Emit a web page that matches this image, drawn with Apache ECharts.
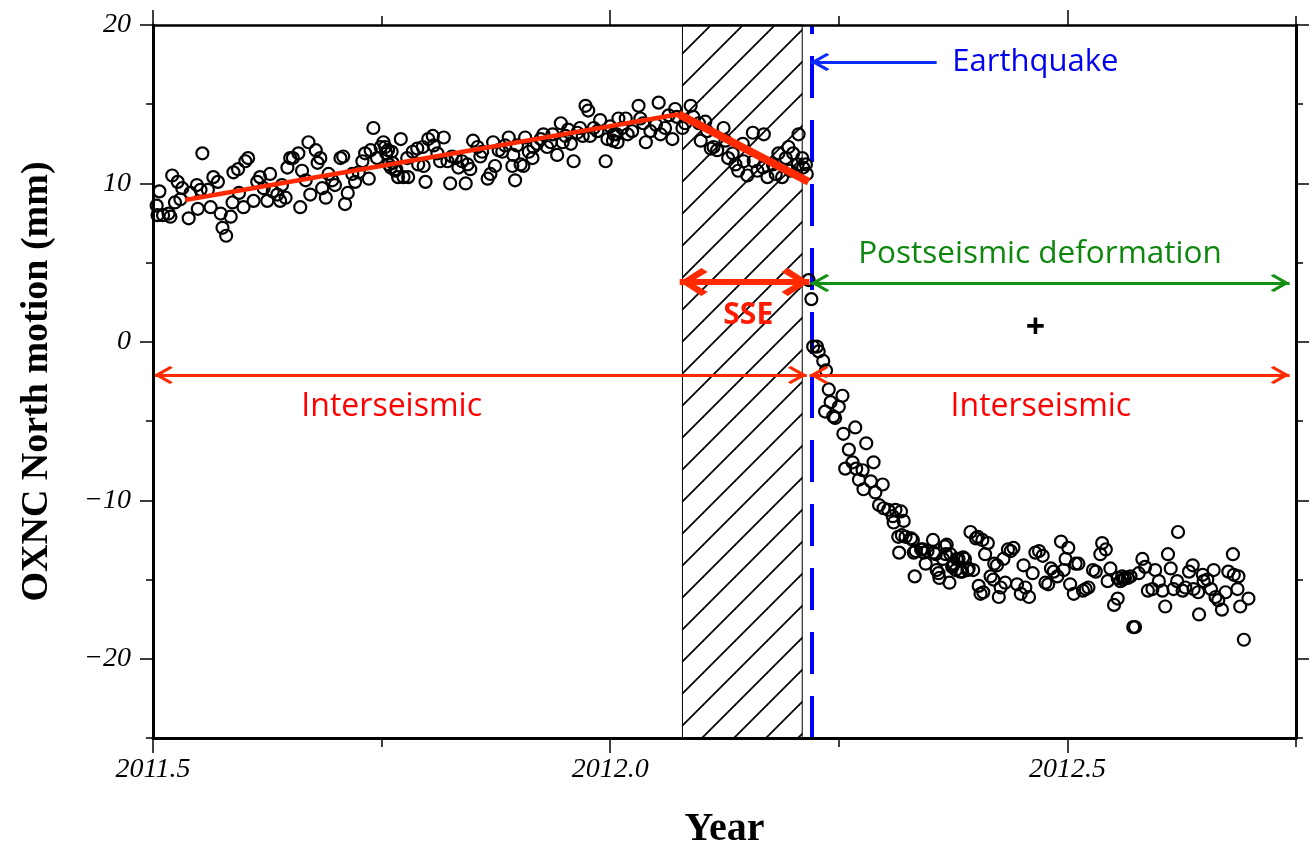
<!DOCTYPE html>
<html><head><meta charset="utf-8">
<script src="https://cdn.jsdelivr.net/npm/echarts@6/dist/echarts.min.js"></script>
<style>html,body{margin:0;padding:0;background:#fff}#c{width:1310px;height:848px}</style>
</head><body><div id="c"></div>
<script>
// ---- data ----
const preTime = [2011.504,2011.507,2011.505,2011.511,2011.517,2011.519,2011.521,2011.527,2011.524,2011.532,2011.530,2011.539,2011.541,2011.548,2011.552,2011.554,2011.549,2011.560,2011.563,2011.566,2011.571,2011.574,2011.576,2011.580,2011.585,2011.587,2011.588,2011.593,2011.599,2011.601,2011.604,2011.594,2011.610,2011.614,2011.617,2011.621,2011.625,2011.628,2011.631,2011.636,2011.639,2011.641,2011.645,2011.647,2011.650,2011.653,2011.659,2011.661,2011.663,2011.667,2011.670,2011.672,2011.678,2011.680,2011.683,2011.685,2011.689,2011.692,2011.696,2011.699,2011.705,2011.708,2011.710,2011.713,2011.718,2011.721,2011.725,2011.729,2011.732,2011.736,2011.738,2011.741,2011.745,2011.749,2011.754,2011.757,2011.760,2011.762,2011.765,2011.768,2011.752,2011.755,2011.761,2011.758,2011.766,2011.771,2011.774,2011.779,2011.778,2011.784,2011.789,2011.790,2011.795,2011.796,2011.798,2011.801,2011.806,2011.807,2011.811,2011.814,2011.818,2011.822,2011.825,2011.827,2011.831,2011.834,2011.838,2011.842,2011.844,2011.847,2011.850,2011.855,2011.858,2011.860,2011.866,2011.869,2011.872,2011.874,2011.878,2011.882,2011.885,2011.889,2011.893,2011.894,2011.896,2011.898,2011.902,2011.905,2011.907,2011.911,2011.915,2011.916,2011.920,2011.924,2011.927,2011.931,2011.935,2011.937,2011.942,2011.946,2011.948,2011.951,2011.954,2011.957,2011.960,2011.964,2011.967,2011.970,2011.973,2011.976,2011.978,2011.982,2011.986,2011.989,2011.995,2011.997,2012.000,2012.004,2012.008,2012.009,2012.003,2012.007,2012.013,2012.017,2012.019,2012.024,2012.031,2012.033,2012.036,2012.039,2012.044,2012.050,2012.053,2012.055,2012.060,2012.064,2012.068,2012.071,2012.073,2012.079,2012.082,2012.088,2012.091,2012.097,2012.099,2012.104,2012.106,2012.110,2012.113,2012.117,2012.124,2012.126,2012.129,2012.134,2012.137,2012.140,2012.145,2012.146,2012.150,2012.156,2012.157,2012.161,2012.167,2012.168,2012.172,2012.178,2012.181,2012.184,2012.188,2012.192,2012.195,2012.197,2012.200,2012.205,2012.206,2012.210,2012.211,2012.215,2012.214];
const preNorth = [8.6,9.5,8.0,8.0,8.1,7.9,10.5,10.1,8.8,9.7,9.0,7.8,9.4,9.9,9.6,11.9,8.4,9.6,8.5,10.4,10.1,8.1,7.2,6.7,7.9,8.8,10.7,10.9,8.5,11.4,11.6,9.4,8.9,10.1,10.4,9.7,8.9,10.6,9.5,9.3,8.9,9.9,9.1,11.0,11.6,11.6,11.9,8.5,10.8,10.2,12.6,9.3,12.1,11.3,11.6,9.7,9.1,10.6,10.2,9.9,11.6,11.7,8.7,9.4,10.6,10.1,10.7,11.4,11.9,10.3,12.1,13.5,11.6,12.3,12.3,12.1,11.0,11.3,10.8,10.4,12.6,11.9,12.0,11.2,10.9,12.8,10.4,10.4,11.6,12.0,12.2,11.2,12.3,11.1,10.1,12.8,13.0,12.4,11.9,11.4,12.9,11.4,10.0,11.7,11.6,11.0,11.4,10.0,11.2,10.9,12.7,12.3,11.7,12.0,10.3,10.6,12.6,11.1,12.1,12.0,12.4,12.9,11.1,11.8,10.2,12.4,11.2,11.1,12.9,12.0,11.6,12.3,12.5,12.8,13.1,12.3,12.6,13.1,11.8,13.8,12.6,13.0,13.4,12.5,11.4,13.2,13.5,13.0,14.9,14.6,13.0,13.5,13.3,14.0,11.4,12.8,13.6,13.1,12.6,14.1,12.7,13.1,13.5,14.1,13.1,13.3,14.9,14.1,13.8,12.6,13.3,13.7,15.1,13.1,13.5,14.3,12.8,14.7,14.2,13.5,13.8,14.9,14.2,13.8,12.7,13.9,13.3,12.2,12.3,12.1,13.5,12.7,11.6,11.9,11.2,10.8,12.5,11.4,10.5,13.2,11.4,10.8,11.0,13.1,10.4,11.2,10.6,11.9,10.4,11.6,12.3,10.8,11.9,11.2,13.1,11.6,11.0,10.6,11.2];
const postTime = [2012.217,2012.220,2012.222,2012.226,2012.228,2012.233,2012.236,2012.239,2012.241,2012.235,2012.244,2012.246,2012.250,2012.254,2012.255,2012.257,2012.261,2012.265,2012.268,2012.269,2012.272,2012.276,2012.277,2012.280,2012.285,2012.288,2012.290,2012.294,2012.298,2012.299,2012.304,2012.309,2012.310,2012.312,2012.315,2012.316,2012.318,2012.319,2012.321,2012.323,2012.329,2012.331,2012.332,2012.333,2012.334,2012.340,2012.342,2012.343,2012.345,2012.347,2012.353,2012.354,2012.356,2012.357,2012.359,2012.360,2012.364,2012.366,2012.367,2012.368,2012.371,2012.372,2012.374,2012.375,2012.376,2012.378,2012.379,2012.381,2012.383,2012.385,2012.386,2012.388,2012.391,2012.392,2012.394,2012.397,2012.400,2012.402,2012.403,2012.405,2012.407,2012.408,2012.410,2012.413,2012.416,2012.419,2012.420,2012.423,2012.425,2012.427,2012.430,2012.432,2012.435,2012.438,2012.441,2012.445,2012.449,2012.452,2012.454,2012.458,2012.462,2012.465,2012.469,2012.473,2012.476,2012.479,2012.482,2012.485,2012.489,2012.493,2012.496,2012.498,2012.501,2012.503,2012.507,2012.509,2012.512,2012.517,2012.520,2012.523,2012.528,2012.531,2012.536,2012.538,2012.542,2012.544,2012.547,2012.551,2012.555,2012.555,2012.558,2012.560,2012.561,2012.563,2012.566,2012.569,2012.572,2012.574,2012.578,2012.582,2012.585,2012.588,2012.593,2012.596,2012.600,2012.604,2012.607,2012.610,2012.613,2012.616,2012.620,2012.621,2012.626,2012.629,2012.633,2012.637,2012.638,2012.643,2012.644,2012.648,2012.649,2012.653,2012.657,2012.660,2012.662,2012.665,2012.669,2012.673,2012.676,2012.681,2012.682,2012.686,2012.687,2012.689,2012.693,2012.698];
const postNorth = [3.9,2.7,-0.3,-0.3,-0.6,-1.2,-1.8,-3.0,-3.8,-4.4,-4.7,-4.8,-4.1,-3.4,-5.8,-8.0,-6.8,-7.6,-5.4,-8.0,-8.7,-8.1,-9.3,-6.4,-8.8,-7.6,-9.5,-10.3,-9.0,-10.5,-10.6,-11.0,-11.4,-10.6,-12.3,-13.3,-10.7,-12.2,-11.3,-12.3,-12.4,-12.5,-13.3,-14.8,-13.2,-13.1,-13.1,-13.3,-14.0,-13.2,-12.5,-13.3,-13.4,-14.4,-14.6,-14.9,-13.7,-12.9,-13.4,-12.8,-15.2,-13.4,-14.2,-14.1,-14.0,-14.4,-13.7,-13.7,-14.5,-14.5,-13.6,-13.7,-14.4,-14.3,-12.0,-14.4,-12.4,-12.3,-15.4,-15.9,-12.5,-15.8,-13.4,-12.7,-14.8,-15.0,-14.0,-14.1,-16.1,-15.5,-13.7,-15.2,-13.1,-13.2,-13.0,-15.3,-15.9,-14.1,-15.5,-16.1,-14.6,-13.3,-13.2,-13.5,-15.2,-15.3,-14.3,-14.5,-14.8,-12.6,-14.4,-13.7,-13.0,-15.3,-15.9,-14.0,-14.0,-15.7,-15.6,-15.5,-14.4,-14.5,-13.4,-12.7,-13.1,-15.1,-14.3,-16.6,-16.2,-14.9,-15.1,-14.8,-15.0,-14.9,-14.9,-14.8,-18.0,-18.0,-14.6,-13.7,-14.2,-15.7,-15.6,-14.4,-15.1,-15.7,-16.7,-13.4,-14.3,-15.6,-15.1,-12.0,-15.7,-15.5,-14.5,-14.1,-15.6,-15.8,-17.2,-14.7,-15.1,-15.0,-15.6,-14.4,-16.1,-16.3,-16.9,-15.8,-14.5,-13.4,-14.7,-15.6,-14.8,-16.7,-18.8,-16.2];
const fitInter = [[2011.535, 8.96], [2012.075, 14.37]];
const fitSSE = [[2012.075, 14.37], [2012.217, 10.11]];
const sseStart = 2012.079, sseEnd = 2012.210, quakeTime = 2012.2155;
const xMajorTicks = [2011.5, 2012.0, 2012.5];
const yMajorTicks = [-20, -10, 0, 10, 20];
const arrowQuake = [[2012.357, 17.67], [2012.219, 17.67]];
const arrowPost = [[2012.219, 3.72], [2012.743, 3.72]];
const arrowSSE = [[2012.076, 3.78], [2012.218, 3.78]];
const arrowInterL = [[2011.501, -2.09], [2012.215, -2.09]];
const arrowInterR = [[2012.218, -2.09], [2012.743, -2.09]];
const noteText = ['Earthquake', 'Postseismic deformation', 'SSE', 'Interseismic', 'Interseismic', '+'];
const notePos = [[2012.465, 17.67], [2012.470, 5.55], [2012.151, 1.64], [2011.761, -4.11], [2012.471, -4.11], [2012.465, 0.88]];

// ---- styling ----
const RED = '#ff2a00', BLUE = '#0a2cff', GREEN = '#149014';
const thinHead = 'path://M50,5L50.5,5L50,5.5Z M50,100L100,180L90,195L50,132L10,195L0,180Z';
const bigHead = 'path://M50,10L50.5,10L50,10.5Z M50,100L100,170L86,190L50,136L14,190L0,170Z';
const serif = 'Liberation Serif';
const sans = 'Open Sans';

function hatch() {
  const c = document.createElement('canvas'); c.width = 32; c.height = 32;
  const g = c.getContext('2d'); g.strokeStyle = '#000'; g.lineWidth = 1.8;
  g.beginPath(); g.moveTo(-4, 36); g.lineTo(36, -4); g.stroke();
  g.beginPath(); g.moveTo(-4, 4); g.lineTo(4, -4); g.stroke();
  g.beginPath(); g.moveTo(28, 36); g.lineTo(36, 28); g.stroke();
  return c;
}

function arrowLine(pts, color, width, head, size, fromHead) {
  return [{coord: pts[0], symbol: fromHead ? head : 'none', symbolSize: size, lineStyle: {color, width, type: 'solid', opacity: 1}},
          {coord: pts[1], symbol: head, symbolSize: size, lineStyle: {color, width, type: 'solid', opacity: 1}}];
}

const tickStyle = {color: '#000', width: 1.5};
function xAx(pos, major, lineW) {
  return {
    type: 'value', position: pos, min: 2011.5, max: 2012.75, interval: 0.25, z: 10,
    axisLine: {show: !major, onZero: false, lineStyle: {color: '#000', width: lineW}},
    axisTick: major ? {show: true, inside: false, customValues: xMajorTicks, length: 15, lineStyle: tickStyle}
                    : {show: true, inside: false, length: 9, lineStyle: tickStyle},
    axisLabel: (major && pos === 'bottom') ? {show: true, customValues: xMajorTicks, margin: 18,
      formatter: v => Number(v).toFixed(1), fontFamily: serif, fontStyle: 'italic', fontSize: 28, color: '#000'} : {show: false},
    splitLine: {show: false},
    name: (major && pos === 'bottom') ? 'Year' : '', nameLocation: 'middle', nameGap: 72,
    nameTextStyle: {fontFamily: serif, fontWeight: 'bold', fontSize: 40, color: '#000'}
  };
}
function yAx(pos, major, lineW) {
  return {
    type: 'value', position: pos, min: -25, max: 20, interval: 5, z: 10,
    axisLine: {show: !major, onZero: false, lineStyle: {color: '#000', width: lineW}},
    axisTick: major ? {show: true, inside: false, customValues: yMajorTicks, length: 13, lineStyle: tickStyle}
                    : {show: true, inside: false, length: 7, lineStyle: tickStyle},
    axisLabel: (major && pos === 'left') ? {show: true, customValues: yMajorTicks, margin: 22,
      formatter: v => (v < 0 ? '\u2212' + (-v) : String(v)), fontFamily: serif, fontStyle: 'italic', fontSize: 28, color: '#000'} : {show: false},
    splitLine: {show: false},
    name: (major && pos === 'left') ? 'OXNC North motion (mm)' : '', nameLocation: 'middle', nameGap: 97,
    nameTextStyle: {fontFamily: serif, fontWeight: 'bold', fontSize: 38, color: '#000'}
  };
}

const noteStyles = [
  {color: '#0000f0', fontFamily: sans, fontSize: 31},
  {color: '#0f870f', fontFamily: sans, fontSize: 31.5},
  {color: '#ff1a00', fontFamily: sans, fontSize: 30, fontWeight: 'bold'},
  {color: '#ff0000', fontFamily: sans, fontSize: 32},
  {color: '#ff0000', fontFamily: sans, fontSize: 32},
  {color: '#000', fontFamily: sans, fontSize: 34, fontWeight: 'bold'}
];

const chart = echarts.init(document.getElementById('c'), null, {renderer: 'canvas'});
chart.setOption({
  animation: false,
  backgroundColor: '#fff',
  grid: {left: 153, right: 14, top: 25, bottom: 110, containLabel: false, outerBoundsMode: 'none'},
  xAxis: [xAx('bottom', false, 3), xAx('bottom', true, 3), xAx('top', false, 2.5), xAx('top', true, 2.5)],
  yAxis: [yAx('left', false, 3), yAx('left', true, 3), yAx('right', false, 3), yAx('right', true, 3)],
  series: [
    {type: 'line', name: 'sse', data: [], z: 1,
     markArea: {silent: true, z: 1, itemStyle: {color: {image: hatch(), repeat: 'repeat'}, borderColor: '#000', borderWidth: 1, opacity: 1},
       data: [[{xAxis: sseStart}, {xAxis: sseEnd}]]}},
    {type: 'line', name: 'quake', data: [], z: 2,
     markLine: {silent: true, z: 2, symbol: 'none', label: {show: false},
       lineStyle: {color: '#0000ff', width: 4, type: [42, 22], opacity: 1}, data: [{xAxis: quakeTime}]}},
    {type: 'scatter', name: 'pre', z: 3, symbol: 'circle', symbolSize: 12,
     itemStyle: {color: 'rgba(0,0,0,0)', borderColor: '#000', borderWidth: 2.2, opacity: 1},
     data: preTime.map((t, i) => [t, preNorth[i]])},
    {type: 'scatter', name: 'post', z: 3, symbol: 'circle', symbolSize: 12,
     itemStyle: {color: 'rgba(0,0,0,0)', borderColor: '#000', borderWidth: 2.2, opacity: 1},
     data: postTime.map((t, i) => [t, postNorth[i]])},
    {type: 'line', name: 'fitInter', z: 4, symbol: 'none', data: fitInter, lineStyle: {color: RED, width: 4.5}},
    {type: 'line', name: 'fitSSE', z: 4, symbol: 'none', data: fitSSE, lineStyle: {color: RED, width: 8}},
    {type: 'line', name: 'arrows', data: [], z: 5,
     markLine: {silent: true, z: 5, label: {show: false}, symbolKeepAspect: false,
       data: [
         arrowLine(arrowQuake, BLUE, 3, thinHead, [18, 38], false),
         arrowLine(arrowPost, GREEN, 3, thinHead, [18, 38], true),
         arrowLine(arrowInterL, RED, 3, thinHead, [18, 38], true),
         arrowLine(arrowInterR, RED, 3, thinHead, [18, 38], true),
         arrowLine(arrowSSE, RED, 6, bigHead, [28, 56], true)
       ]}},
    {type: 'scatter', name: 'notes', z: 6, symbolSize: 0, silent: true, itemStyle: {opacity: 1},
     data: notePos.map((p, i) => ({value: p, label: Object.assign({show: true, position: 'inside', opacity: 1, formatter: noteText[i], align: 'center', verticalAlign: 'middle'}, noteStyles[i])}))}
  ]
});
</script></body></html>
